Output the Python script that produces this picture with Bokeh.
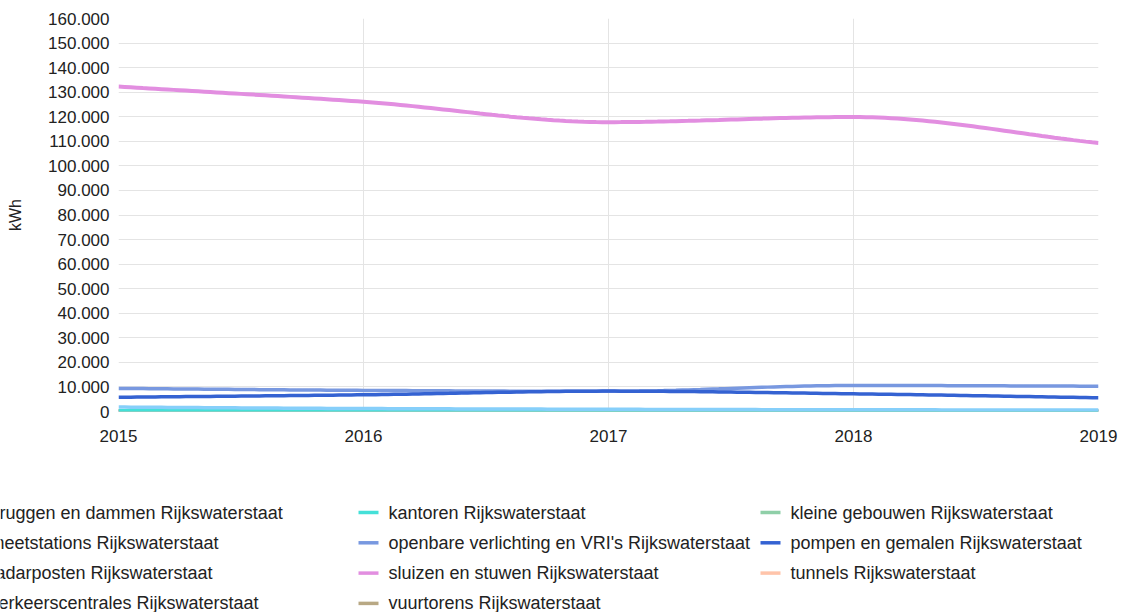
import numpy as np
from bokeh.plotting import figure
from bokeh.layouts import column
from bokeh.models import FixedTicker, Range1d, ColumnDataSource
from bokeh.core.properties import value
from bokeh.embed import file_html
from bokeh.resources import INLINE

# ---------------- data ----------------
years = [2015, 2016, 2017, 2018, 2019]

series_names = [
    "bruggen en dammen Rijkswaterstaat",
    "kantoren Rijkswaterstaat",
    "kleine gebouwen Rijkswaterstaat",
    "meetstations Rijkswaterstaat",
    "openbare verlichting en VRI's Rijkswaterstaat",
    "pompen en gemalen Rijkswaterstaat",
    "radarposten Rijkswaterstaat",
    "sluizen en stuwen Rijkswaterstaat",
    "tunnels Rijkswaterstaat",
    "verkeerscentrales Rijkswaterstaat",
    "vuurtorens Rijkswaterstaat",
]

bruggen = [1800, 1200, 900, 700, 600]
kantoren = [300, 300, 250, 250, 200]
kleine_gebouwen = [200, 200, 200, 150, 150]
meetstations = [150, 150, 150, 150, 150]
openbare_verlichting = [9400, 8600, 8200, 10600, 10300]
pompen = [5800, 6800, 8300, 7200, 5600]
radarposten = [100, 100, 100, 100, 100]
sluizen = [132300, 126100, 117800, 119900, 109300]
tunnels = [250, 250, 200, 200, 200]
verkeerscentrales = [100, 100, 100, 100, 100]
vuurtorens = [50, 50, 50, 50, 50]

series_values = [bruggen, kantoren, kleine_gebouwen, meetstations,
                 openbare_verlichting, pompen, radarposten, sluizen,
                 tunnels, verkeerscentrales, vuurtorens]

y_ticks = [0, 10000, 20000, 30000, 40000, 50000, 60000, 70000, 80000,
           90000, 100000, 110000, 120000, 130000, 140000, 150000, 160000]
y_tick_labels = ["0", "10.000", "20.000", "30.000", "40.000", "50.000",
                 "60.000", "70.000", "80.000", "90.000", "100.000",
                 "110.000", "120.000", "130.000", "140.000", "150.000",
                 "160.000"]
x_tick_labels = ["2015", "2016", "2017", "2018", "2019"]

colors = [
    "#86cffa",  # bruggen
    "#44e0d8",  # kantoren
    "#8fcfa8",  # kleine gebouwen
    "#9ab0c8",  # meetstations
    "#7898e0",  # openbare verlichting
    "#3462d2",  # pompen
    "#e090c0",  # radarposten
    "#e28ee0",  # sluizen
    "#ffc4aa",  # tunnels
    "#c0a0e0",  # verkeerscentrales
    "#b8a884",  # vuurtorens
]


def smooth(xs, ys, n=40):
    """Monotone cubic (Fritsch-Carlson) curve through the data points, for drawing."""
    xs = np.asarray(xs, float)
    ys = np.asarray(ys, float)
    h = np.diff(xs)
    d = np.diff(ys) / h
    m = np.zeros(len(xs))
    m[0], m[-1] = d[0], d[-1]
    for i in range(1, len(xs) - 1):
        if d[i - 1] * d[i] <= 0:
            m[i] = 0.0
        else:
            m[i] = 2.0 / (1.0 / d[i - 1] + 1.0 / d[i])
    ox, oy = [], []
    for i in range(len(xs) - 1):
        t = np.linspace(0, 1, n, endpoint=(i == len(xs) - 2))
        h00 = 2 * t**3 - 3 * t**2 + 1
        h10 = t**3 - 2 * t**2 + t
        h01 = -2 * t**3 + 3 * t**2
        h11 = t**3 - t**2
        ox.extend(xs[i] + t * h[i])
        oy.extend(h00 * ys[i] + h10 * h[i] * m[i] + h01 * ys[i + 1] + h11 * h[i] * m[i + 1])
    return ox, oy


FONT = "Liberation Sans"
TXT = "#222222"
W = 1125
H_CHART = 450
H_LEG = 162

p = figure(width=W, height=H_CHART, output_backend="svg", toolbar_location=None,
           x_range=Range1d(2015, 2019), y_range=Range1d(0, 160000),
           min_border_left=118, min_border_right=27, min_border_top=18,
           min_border_bottom=39)
p.frame_align = False
p.outline_line_color = None
p.background_fill_color = "white"
p.border_fill_color = "white"

# draw order: near-zero series first, visible ones on top
draw_order = [10, 9, 6, 3, 8, 2, 1, 0, 4, 5, 7]
for idx in draw_order:
    sx, sy = smooth(years, series_values[idx])
    lw = 4 if idx == 7 else 3.5
    p.line(sx, sy, line_color=colors[idx], line_width=lw)

# axes
p.xaxis.ticker = FixedTicker(ticks=years)
p.xaxis.major_label_overrides = {y: l for y, l in zip(years, x_tick_labels)}
p.yaxis.ticker = FixedTicker(ticks=y_ticks)
p.yaxis.major_label_overrides = {t: l for t, l in zip(y_ticks, y_tick_labels)}
for ax in (p.xaxis, p.yaxis):
    ax.axis_line_color = None
    ax.major_tick_line_color = None
    ax.minor_tick_line_color = None
    ax.major_label_text_font = FONT
    ax.major_label_text_font_size = "17px"
    ax.major_label_text_color = TXT
p.xaxis.major_label_standoff = 12
p.yaxis.major_label_standoff = 3
p.yaxis.axis_label = "kWh"
p.yaxis.axis_label_text_font = FONT
p.yaxis.axis_label_text_font_size = "16px"
p.yaxis.axis_label_text_font_style = "normal"
p.yaxis.axis_label_text_color = TXT
p.yaxis.axis_label_standoff = 21

p.xgrid.grid_line_color = "#e4e4e4"
p.ygrid.grid_line_color = "#e4e4e4"
p.xgrid.ticker = FixedTicker(ticks=years)
p.ygrid.ticker = FixedTicker(ticks=y_ticks)

# ---------------- legend (separate pixel-space figure) ----------------
lg = figure(width=W, height=H_LEG, output_backend="svg", toolbar_location=None,
            x_range=Range1d(0, W), y_range=Range1d(H_LEG, 0),
            min_border_left=0, min_border_right=0, min_border_top=0,
            min_border_bottom=0)
lg.frame_align = False
lg.axis.visible = False
lg.grid.visible = False
lg.outline_line_color = None
lg.background_fill_color = "white"
lg.border_fill_color = "white"

ncols = 3
col_x = [-41, 358, 760]
row_y0, row_step = 62, 30.3
glyph_w, gap = 20, 10
lx0, lx1, ly, tx, names, cols_ = [], [], [], [], [], []
for i, name in enumerate(series_names):
    r, c = divmod(i, ncols)
    lx0.append(col_x[c])
    lx1.append(col_x[c] + glyph_w)
    ly.append(row_y0 + r * row_step)
    tx.append(col_x[c] + glyph_w + gap)
    names.append(name)
    cols_.append(colors[i])
src = ColumnDataSource(dict(x0=lx0, x1=lx1, y=ly, tx=tx, name=names, color=cols_))
lg.segment(x0="x0", y0="y", x1="x1", y1="y", line_color="color", line_width=3.5, source=src)
lg.text(x="tx", y="y", text="name", source=src, text_baseline="middle",
        text_align="left", text_font=value(FONT), text_font_size="18px",
        text_color=TXT)

layout = column(p, lg, spacing=0)
open("out.html", "w").write(file_html(layout, INLINE))
